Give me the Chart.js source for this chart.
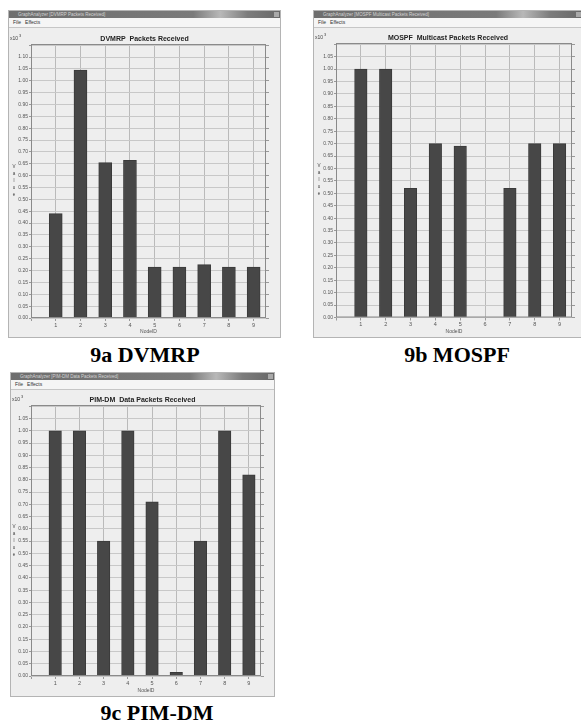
<!DOCTYPE html>
<html>
<head>
<meta charset="utf-8">
<script src="https://cdn.jsdelivr.net/npm/chart.js@4.4.1/dist/chart.umd.min.js"></script>
<style>
  body { margin: 0; width: 581px; height: 723px; overflow: hidden; background: #fff; position: relative; font-family: "Liberation Sans", Arial, sans-serif; }
  .win { position: absolute; background: #eeeeee; border: 1px solid #b4b4b4; box-sizing: border-box; overflow: hidden; }
  .tbar { position: absolute; left: 0; right: 0; top: 0; height: 7px; background: linear-gradient(to right, #6e6e6e 0%, #7a7a7a 68%, #b8b8b8 78%, #7c7c7c 88%, #686868 100%); color: #d4d4d4; font-size: 4.5px; line-height: 7px; padding-left: 9px; white-space: nowrap; }
  .close { position: absolute; right: 1px; top: 1px; width: 5px; height: 5px; background: #a9a9a9; }
  .menu { position: absolute; left: 0; right: 0; top: 7px; height: 9px; background: #f5f5f5; font-size: 5px; line-height: 9px; color: #333; padding-left: 4px; border-bottom: 1px solid #c6c6c6; white-space: nowrap; }
  .menu span { margin-right: 4px; }
  canvas { position: absolute; }
  .cap { position: absolute; font-family: "Liberation Serif", "Times New Roman", serif; font-weight: bold; font-size: 22px; color: #000; transform: translate(-50%, -50%); white-space: nowrap; }
</style>
</head>
<body>

<div class="win" style="left:8px;top:10px;width:273px;height:328px;">
  <div class="tbar">GraphAnalyzer [DVMRP  Packets Received]</div><div class="close"></div>
  <div class="menu"><span>File</span><span>Effects</span></div>
</div>
<canvas id="chartA" width="271" height="309" style="left:9px;top:28px;"></canvas>
<div class="cap" style="left:145px;top:355px;">9a DVMRP</div>

<div class="win" style="left:313px;top:10px;width:270px;height:328px;">
  <div class="tbar">GraphAnalyzer [MOSPF  Multicast Packets Received]</div><div class="close"></div>
  <div class="menu"><span>File</span><span>Effects</span></div>
</div>
<canvas id="chartB" width="268" height="309" style="left:314px;top:28px;"></canvas>
<div class="cap" style="left:457px;top:355px;">9b MOSPF</div>

<div class="win" style="left:10px;top:372px;width:265px;height:325px;">
  <div class="tbar">GraphAnalyzer [PIM-DM  Data Packets Received]</div><div class="close"></div>
  <div class="menu"><span>File</span><span>Effects</span></div>
</div>
<canvas id="chartC" width="263" height="307" style="left:11px;top:389px;"></canvas>
<div class="cap" style="left:157px;top:713px;">9c PIM-DM</div>

<script>
// node IDs on the x axis
const nodeIds = [1, 2, 3, 4, 5, 6, 7, 8, 9];

// packets received, in units of 10^3
const dvmrpValues = [0.44, 1.045, 0.655, 0.665, 0.215, 0.215, 0.225, 0.215, 0.215];
const mospfValues = [1.00, 1.00, 0.52, 0.70, 0.69, 0, 0.52, 0.70, 0.70];
const pimdmValues = [1.00, 1.00, 0.55, 1.00, 0.71, 0.015, 0.55, 1.00, 0.82];

const yTickStep = 0.05;
const fontFamily = '"Liberation Sans", Arial, sans-serif';

// draws the plot frame, the stacked "Value" label and the x10^3 multiplier
const frameAndLabels = {
  id: 'frameAndLabels',
  afterDatasetsDraw(chart) {
    const { ctx, chartArea: a } = chart;
    ctx.save();
    ctx.strokeStyle = '#8a8a8a';
    ctx.lineWidth = 1;
    ctx.strokeRect(a.left + 0.5, a.top + 0.5, a.right - a.left - 1, a.bottom - a.top - 1);
    ctx.fillStyle = '#444';
    ctx.font = '4.5px ' + fontFamily;
    ctx.textAlign = 'center';
    ctx.textBaseline = 'middle';
    const word = 'Value';
    const mid = (a.top + a.bottom) / 2;
    for (let i = 0; i < word.length; i++) {
      ctx.fillText(word[i], a.left - 17, mid - 14 + i * 7);
    }
    ctx.textAlign = 'left';
    ctx.font = '5px ' + fontFamily;
    ctx.fillText('x10', 1, a.top - 5);
    ctx.font = '4px ' + fontFamily;
    ctx.fillText('3', 10, a.top - 8);
    ctx.restore();
  }
};

function makeChart(id, title, values, g) {
  const ctx = document.getElementById(id).getContext('2d');
  return new Chart(ctx, {
    type: 'bar',
    data: {
      datasets: [{
        data: values.map((v, i) => ({ x: nodeIds[i], y: v })),
        backgroundColor: '#474747',
        borderColor: '#3a3a3a',
        borderWidth: 1,
        barThickness: g.barWidth
      }]
    },
    options: {
      responsive: false,
      animation: false,
      layout: { padding: 0 },
      plugins: {
        legend: { display: false },
        tooltip: { enabled: false },
        title: {
          display: true,
          text: title,
          color: '#222',
          font: { family: fontFamily, size: 7, weight: 'bold', lineHeight: 1 },
          padding: { top: g.titleTop, bottom: g.plotTop - g.titleTop - 7 }
        }
      },
      scales: {
        x: {
          type: 'linear',
          offset: false,
          min: 0,
          max: 9.5,
          ticks: {
            stepSize: 1,
            includeBounds: false,
            autoSkip: false,
            maxRotation: 0,
            color: '#555',
            padding: 1,
            font: { family: fontFamily, size: 5.5 },
            callback: v => (v >= 1 && v <= 9 && Number.isInteger(v)) ? String(v) : ''
          },
          grid: { offset: false, color: '#bababa', tickLength: 3, tickColor: '#999' },
          border: { display: false },
          title: { display: true, text: 'NodeID', color: '#555', font: { family: fontFamily, size: 5 }, padding: { top: 0, bottom: 2 } },
          afterFit: s => { s.height = g.bottomH; }
        },
        y: {
          min: 0,
          max: g.yMax,
          ticks: {
            stepSize: yTickStep,
            includeBounds: false,
            autoSkip: false,
            color: '#555',
            padding: 1,
            font: { family: fontFamily, size: 5 },
            callback: v => v > g.labelMax + 1e-6 ? '' : v.toFixed(2)
          },
          grid: { color: '#c8c8c8', tickLength: 2, tickColor: '#999' },
          border: { display: false },
          afterFit: s => { s.width = g.leftW; }
        },
        y2: {
          position: 'right',
          min: 0,
          max: g.yMax,
          ticks: { display: false, stepSize: yTickStep, includeBounds: false },
          grid: { drawOnChartArea: false, tickLength: 3, tickColor: '#999' },
          border: { display: false },
          afterFit: s => { s.width = g.rightW; }
        }
      }
    },
    plugins: [frameAndLabels]
  });
}

makeChart('chartA', 'DVMRP  Packets Received', dvmrpValues,
  { leftW: 22, rightW: 14, plotTop: 16, titleTop: 8, bottomH: 19, yMax: 1.155, labelMax: 1.10, barWidth: 13 });
makeChart('chartB', 'MOSPF  Multicast Packets Received', mospfValues,
  { leftW: 22, rightW: 10, plotTop: 15, titleTop: 7, bottomH: 19.5, yMax: 1.105, labelMax: 1.05, barWidth: 12.5 });
makeChart('chartC', 'PIM-DM  Data Packets Received', pimdmValues,
  { leftW: 20, rightW: 13, plotTop: 16, titleTop: 8, bottomH: 20, yMax: 1.105, labelMax: 1.05, barWidth: 12.5 });
</script>
</body>
</html>
